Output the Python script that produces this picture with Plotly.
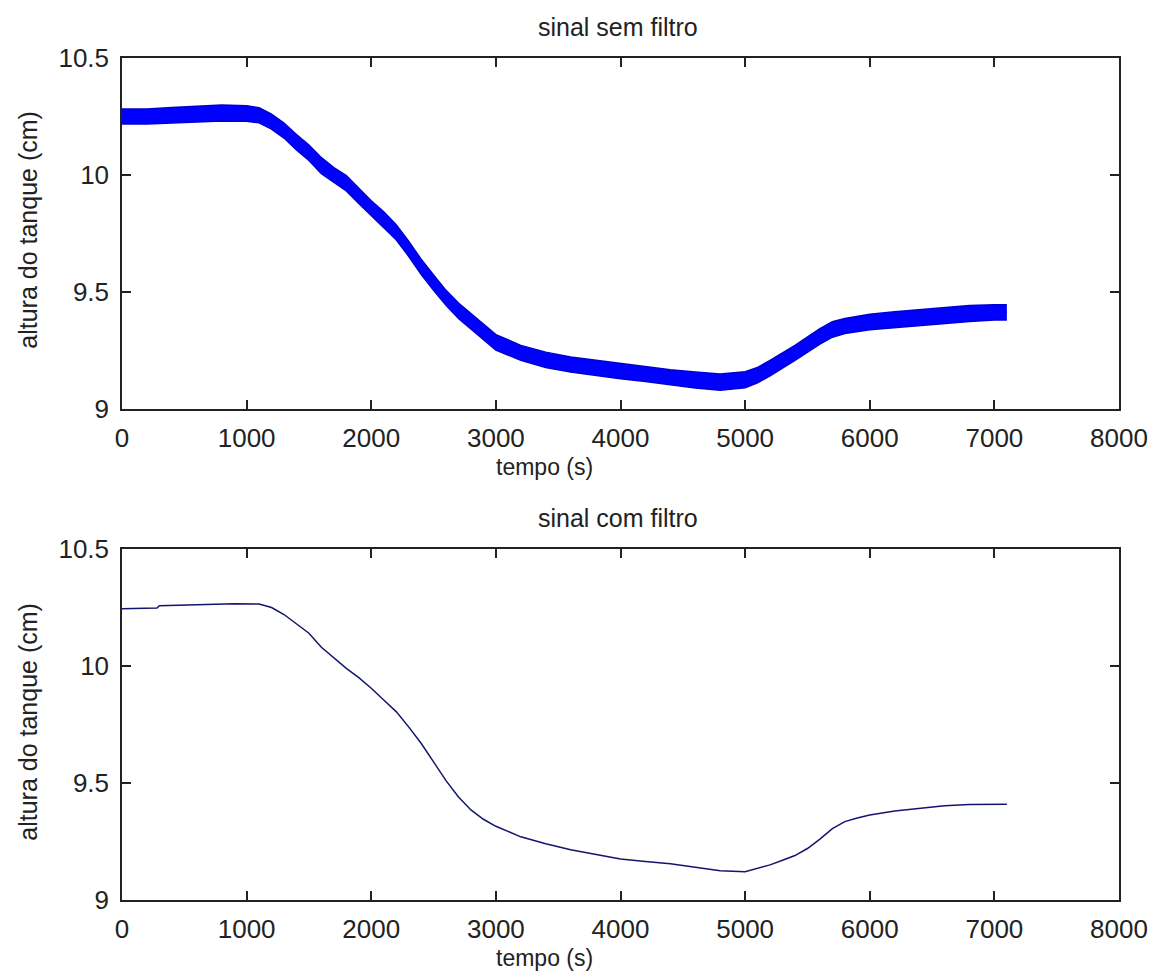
import plotly.graph_objects as go

# ---- data ----
# unfiltered (noisy) signal: centre of the noisy band and its half-width
t_noisy = [0, 200, 400, 600, 800, 1000, 1100, 1200, 1300, 1400, 1500, 1600, 1700,
           1800, 1900, 2000, 2100, 2200, 2300, 2400, 2500, 2600, 2700, 2800, 2900,
           3000, 3200, 3400, 3600, 3800, 4000, 4200, 4400, 4600, 4800, 5000, 5100,
           5200, 5400, 5600, 5700, 5800, 6000, 6200, 6400, 6600, 6800, 7000, 7100]
noisy_center = [10.250, 10.250, 10.255, 10.260, 10.265, 10.263, 10.255, 10.228, 10.190,
                10.140, 10.095, 10.040, 10.000, 9.965, 9.910, 9.858, 9.810, 9.755,
                9.685, 9.608, 9.540, 9.475, 9.420, 9.375, 9.330, 9.285, 9.240, 9.210,
                9.190, 9.175, 9.163, 9.150, 9.135, 9.124, 9.115, 9.125, 9.145, 9.175,
                9.240, 9.310, 9.340, 9.355, 9.372, 9.382, 9.392, 9.400, 9.408, 9.413,
                9.413]
noisy_halfwidth = [0.032, 0.032, 0.033, 0.034, 0.034, 0.033, 0.032, 0.032, 0.032,
                   0.033, 0.033, 0.034, 0.032, 0.033, 0.032, 0.032, 0.033, 0.032,
                   0.032, 0.032, 0.033, 0.032, 0.033, 0.032, 0.032, 0.033, 0.032,
                   0.033, 0.032, 0.033, 0.034, 0.033, 0.033, 0.034, 0.035, 0.034,
                   0.033, 0.033, 0.032, 0.033, 0.033, 0.032, 0.033, 0.034, 0.033,
                   0.034, 0.034, 0.033, 0.033]

# filtered signal
t_filt = [0, 280, 300, 600, 900, 1100, 1200, 1300, 1400, 1500, 1600, 1700, 1800, 1900,
          2000, 2100, 2200, 2300, 2400, 2500, 2600, 2700, 2800, 2900, 3000, 3200, 3400,
          3600, 3800, 4000, 4200, 4400, 4600, 4800, 5000, 5100, 5200, 5300, 5400, 5500,
          5600, 5700, 5800, 5900, 6000, 6200, 6400, 6600, 6800, 7000, 7100]
filt_values = [10.245, 10.248, 10.258, 10.262, 10.266, 10.265, 10.250, 10.220, 10.180,
               10.140, 10.080, 10.035, 9.990, 9.950, 9.905, 9.855, 9.805, 9.740, 9.670,
               9.590, 9.510, 9.440, 9.385, 9.345, 9.315, 9.270, 9.240, 9.215, 9.195,
               9.175, 9.165, 9.155, 9.140, 9.125, 9.121, 9.135, 9.150, 9.170, 9.190,
               9.220, 9.260, 9.305, 9.335, 9.350, 9.363, 9.380, 9.393, 9.403, 9.408,
               9.409, 9.409]

x_ticks = [0, 1000, 2000, 3000, 4000, 5000, 6000, 7000, 8000]
y_ticks = [9, 9.5, 10, 10.5]

title_top = "sinal sem filtro"
title_bottom = "sinal com filtro"
x_label = "tempo (s)"
y_label = "altura do tanque (cm)"

# ---- figure ----
W, H = 1160, 978
L, R = 122, 1127
TOP_T, TOP_B = 58, 409
BOT_T, BOT_B = 549, 900
plot_h = BOT_B - TOP_T

fig = go.Figure()

upper = [c + h for c, h in zip(noisy_center, noisy_halfwidth)]
lower = [c - h for c, h in zip(noisy_center, noisy_halfwidth)]

fig.add_trace(go.Scatter(x=t_noisy, y=lower, mode="lines",
                         line=dict(color="#0000d0", width=1.5),
                         xaxis="x", yaxis="y", showlegend=False, hoverinfo="skip"))
fig.add_trace(go.Scatter(x=t_noisy, y=upper, mode="lines", fill="tonexty",
                         fillcolor="#0000ff",
                         line=dict(color="#0000d0", width=1.5),
                         xaxis="x", yaxis="y", showlegend=False, hoverinfo="skip"))
fig.add_trace(go.Scatter(x=t_noisy, y=noisy_center, mode="lines",
                         line=dict(color="#0000ff", width=3),
                         xaxis="x", yaxis="y", showlegend=False))

fig.add_trace(go.Scatter(x=t_filt, y=filt_values, mode="lines",
                         line=dict(color="#14146e", width=1.5),
                         xaxis="x2", yaxis="y2", showlegend=False))

tick_font = dict(family="Liberation Sans, Arial, sans-serif", size=26, color="#222222")
label_font = dict(family="Liberation Sans, Arial, sans-serif", size=23, color="#222222")
ylabel_font = dict(family="Liberation Sans, Arial, sans-serif", size=25, color="#222222")
title_font = dict(family="Liberation Sans, Arial, sans-serif", size=25, color="#222222")

axis_common = dict(range=[0, 8000], tickvals=x_ticks, ticks="inside", ticklen=9,
                   tickcolor="#222222", tickwidth=1.5, showline=True, linecolor="#222222",
                   linewidth=1.5, mirror="ticks", showgrid=False, zeroline=False,
                   tickfont=tick_font, ticklabelstandoff=5)
yaxis_common = dict(range=[9, 10.5], tickvals=y_ticks, ticks="inside", ticklen=9,
                    tickcolor="#222222", tickwidth=1.5, showline=True, linecolor="#222222",
                    linewidth=1.5, mirror="ticks", showgrid=False, zeroline=False,
                    tickfont=tick_font, ticklabelstandoff=6)

top_dom = [(BOT_B - TOP_B) / plot_h, 1.0]
bot_dom = [0.0, (BOT_B - BOT_T) / plot_h]

fig.update_layout(
    width=W, height=H,
    margin=dict(l=L, r=W - R, t=TOP_T, b=H - BOT_B),
    paper_bgcolor="white", plot_bgcolor="white",
    xaxis=dict(axis_common, anchor="y"),
    yaxis=dict(yaxis_common, domain=top_dom, anchor="x"),
    xaxis2=dict(axis_common, anchor="y2"),
    yaxis2=dict(yaxis_common, domain=bot_dom, anchor="x2"),
)

def px_x(px):
    return (px - L) / (R - L)

def px_y(py):
    return (BOT_B - py) / plot_h

ann = []
ann.append(dict(text=title_top, x=px_x(622), y=px_y(27), font=title_font))
ann.append(dict(text=title_bottom, x=px_x(622), y=px_y(518), font=title_font))
ann.append(dict(text=x_label, x=px_x(548), y=px_y(467), font=label_font))
ann.append(dict(text=x_label, x=px_x(548), y=px_y(958), font=label_font))
ann.append(dict(text=y_label, x=px_x(27), y=px_y(230), textangle=-90, font=ylabel_font))
ann.append(dict(text=y_label, x=px_x(27), y=px_y(722), textangle=-90, font=ylabel_font))
for a in ann:
    a.update(xref="paper", yref="paper", xanchor="center", yanchor="middle",
             showarrow=False)
fig.update_layout(annotations=ann)

fig.write_html("out.html")
